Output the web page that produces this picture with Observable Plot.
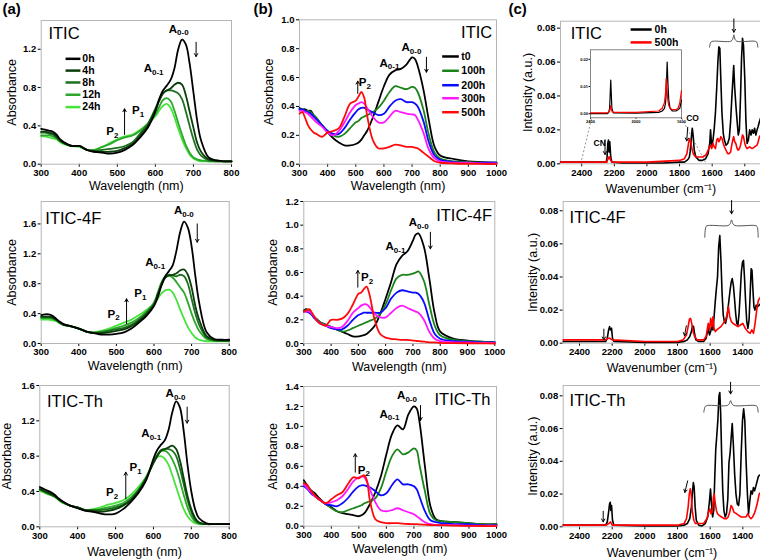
<!DOCTYPE html>
<html><head><meta charset="utf-8">
<script src="https://cdn.jsdelivr.net/npm/d3@7"></script>
<script src="https://cdn.jsdelivr.net/npm/@observablehq/plot@0.6"></script>
<style>
html,body{margin:0;padding:0;background:#fff;}
#fig{position:relative;width:760px;height:560px;overflow:hidden;background:#fff;}
#fig svg{position:absolute;left:0;top:0;}
</style></head><body><div id="fig"></div>
<script>
// ---------- Column (a): UV-vis, films under light ----------
const A_SERIES = ["0h","4h","8h","12h","24h"];
const A_COLORS = ["#000000","#0b3f0b","#1d701d","#2ba82b","#46e43a"];
const A_WL = [300,310,320,330,340,350,360,380,400,420,440,460,480,500,520,540,560,580,600,610,620,630,640,650,660,670,680,690,700,710,720,740,760,780,800];
const A1_0h  = [0.37,0.36,0.35,0.34,0.31,0.26,0.23,0.19,0.19,0.15,0.13,0.12,0.11,0.12,0.15,0.20,0.28,0.38,0.55,0.68,0.77,0.82,0.88,1.00,1.20,1.30,1.25,1.05,0.75,0.45,0.25,0.07,0.04,0.03,0.03];
const A1_4h  = [0.34,0.34,0.33,0.32,0.29,0.25,0.22,0.19,0.19,0.15,0.13,0.13,0.13,0.14,0.17,0.21,0.30,0.40,0.57,0.66,0.74,0.77,0.79,0.83,0.85,0.83,0.72,0.55,0.38,0.22,0.13,0.05,0.04,0.03,0.03];
const A1_8h  = [0.33,0.33,0.32,0.31,0.28,0.24,0.22,0.19,0.19,0.15,0.14,0.15,0.16,0.17,0.19,0.23,0.32,0.42,0.58,0.67,0.74,0.77,0.77,0.76,0.74,0.68,0.55,0.40,0.26,0.15,0.09,0.04,0.03,0.03,0.03];
const A1_12h = [0.30,0.30,0.30,0.29,0.27,0.24,0.22,0.19,0.19,0.15,0.15,0.18,0.21,0.25,0.28,0.30,0.35,0.42,0.52,0.60,0.67,0.69,0.66,0.56,0.43,0.31,0.20,0.12,0.07,0.05,0.04,0.03,0.03,0.03,0.03];
const A1_24h = [0.29,0.29,0.28,0.27,0.26,0.23,0.21,0.19,0.18,0.15,0.15,0.18,0.22,0.26,0.29,0.31,0.36,0.42,0.50,0.56,0.61,0.63,0.59,0.49,0.37,0.26,0.17,0.10,0.06,0.04,0.03,0.03,0.03,0.03,0.03];
const A2_0h  = [0.38,0.39,0.39,0.37,0.33,0.29,0.26,0.23,0.20,0.16,0.14,0.12,0.12,0.13,0.15,0.20,0.28,0.37,0.50,0.62,0.78,0.90,0.97,1.05,1.25,1.50,1.63,1.55,1.30,0.90,0.55,0.15,0.06,0.05,0.05];
const A2_4h  = [0.36,0.36,0.36,0.35,0.32,0.28,0.25,0.23,0.20,0.16,0.14,0.14,0.15,0.17,0.19,0.23,0.30,0.39,0.52,0.65,0.78,0.88,0.91,0.92,0.94,0.98,0.99,0.92,0.75,0.50,0.32,0.10,0.05,0.04,0.04];
const A2_8h  = [0.35,0.35,0.35,0.34,0.31,0.28,0.25,0.23,0.20,0.16,0.14,0.15,0.17,0.19,0.21,0.25,0.32,0.41,0.53,0.66,0.80,0.89,0.92,0.91,0.90,0.92,0.90,0.80,0.60,0.40,0.25,0.08,0.04,0.04,0.04];
const A2_12h = [0.34,0.34,0.34,0.33,0.31,0.27,0.25,0.23,0.20,0.16,0.15,0.16,0.18,0.21,0.24,0.28,0.34,0.43,0.55,0.68,0.82,0.90,0.91,0.88,0.82,0.75,0.68,0.55,0.40,0.27,0.17,0.06,0.04,0.04,0.04];
const A2_24h = [0.32,0.32,0.32,0.31,0.30,0.27,0.25,0.23,0.20,0.16,0.15,0.17,0.20,0.24,0.28,0.32,0.38,0.45,0.53,0.60,0.67,0.71,0.72,0.68,0.58,0.45,0.33,0.22,0.14,0.08,0.05,0.03,0.03,0.03,0.03];
const A3_0h  = [0.45,0.43,0.41,0.39,0.36,0.32,0.29,0.24,0.21,0.18,0.17,0.15,0.14,0.15,0.20,0.28,0.38,0.52,0.77,0.87,0.93,0.98,1.10,1.30,1.42,1.35,1.08,0.70,0.40,0.20,0.10,0.04,0.03,0.03,0.03];
const A3_4h  = [0.43,0.41,0.39,0.37,0.35,0.31,0.28,0.24,0.22,0.19,0.18,0.17,0.18,0.20,0.24,0.30,0.40,0.54,0.72,0.80,0.86,0.88,0.90,0.92,0.88,0.75,0.55,0.35,0.20,0.10,0.05,0.03,0.03,0.03,0.03];
const A3_8h  = [0.42,0.40,0.38,0.36,0.34,0.31,0.28,0.24,0.22,0.19,0.19,0.19,0.20,0.22,0.25,0.31,0.41,0.55,0.73,0.81,0.87,0.88,0.88,0.86,0.80,0.66,0.48,0.30,0.17,0.08,0.04,0.03,0.03,0.03,0.03];
const A3_12h = [0.42,0.40,0.38,0.36,0.34,0.31,0.28,0.24,0.22,0.19,0.19,0.20,0.22,0.24,0.27,0.33,0.42,0.55,0.74,0.81,0.86,0.86,0.83,0.76,0.66,0.52,0.36,0.22,0.12,0.06,0.04,0.03,0.03,0.03,0.03];
const A3_24h = [0.41,0.39,0.37,0.36,0.34,0.30,0.27,0.24,0.21,0.19,0.20,0.22,0.25,0.27,0.30,0.36,0.45,0.56,0.74,0.79,0.80,0.77,0.70,0.58,0.45,0.32,0.20,0.12,0.07,0.04,0.03,0.03,0.03,0.03,0.03];

// ---------- Column (b): UV-vis, solutions ----------
const B_SERIES = ["t0","100h","200h","300h","500h"];
const B_COLORS = ["#000000","#1a841a","#0a0aff","#ff18ff","#ff0a0a"];
const B_WL = [300,310,320,330,340,350,360,380,400,420,440,460,480,500,510,520,530,540,560,580,600,620,640,660,680,700,710,720,740,760,780,800,850,900,950,1000];
const B1_t0   = [0.39,0.38,0.38,0.37,0.37,0.34,0.32,0.27,0.22,0.18,0.15,0.13,0.13,0.14,0.15,0.17,0.20,0.23,0.32,0.43,0.54,0.62,0.65,0.66,0.69,0.74,0.73,0.68,0.52,0.30,0.12,0.06,0.035,0.02,0.015,0.01];
const B1_100h = [0.38,0.38,0.37,0.37,0.36,0.34,0.32,0.27,0.23,0.20,0.19,0.21,0.25,0.29,0.30,0.32,0.33,0.34,0.36,0.39,0.44,0.50,0.54,0.53,0.52,0.535,0.53,0.50,0.38,0.20,0.08,0.04,0.02,0.015,0.01,0.01];
const B1_200h = [0.38,0.38,0.37,0.36,0.35,0.33,0.31,0.27,0.23,0.21,0.21,0.25,0.31,0.36,0.38,0.39,0.39,0.38,0.36,0.34,0.35,0.40,0.44,0.45,0.43,0.43,0.42,0.40,0.30,0.15,0.06,0.03,0.015,0.01,0.01,0.01];
const B1_300h = [0.37,0.37,0.36,0.35,0.33,0.31,0.29,0.26,0.22,0.20,0.23,0.29,0.36,0.41,0.42,0.43,0.42,0.39,0.33,0.29,0.29,0.33,0.37,0.36,0.35,0.345,0.34,0.31,0.22,0.10,0.04,0.02,0.01,0.01,0.005,0.005];
const B1_500h = [0.35,0.36,0.32,0.27,0.24,0.22,0.21,0.19,0.22,0.23,0.25,0.33,0.42,0.44,0.47,0.50,0.46,0.34,0.17,0.11,0.11,0.12,0.135,0.13,0.12,0.12,0.115,0.11,0.08,0.05,0.02,0.01,0.005,0.003,0.002,0.0];
const B2_t0   = [0.28,0.29,0.27,0.25,0.22,0.20,0.18,0.16,0.14,0.12,0.10,0.08,0.06,0.06,0.065,0.07,0.08,0.10,0.15,0.25,0.38,0.52,0.67,0.74,0.78,0.87,0.92,0.93,0.82,0.55,0.25,0.10,0.04,0.025,0.015,0.01];
const B2_100h = [0.28,0.28,0.27,0.25,0.22,0.20,0.18,0.16,0.14,0.12,0.10,0.11,0.13,0.15,0.16,0.17,0.18,0.19,0.21,0.25,0.33,0.45,0.55,0.58,0.58,0.59,0.60,0.61,0.53,0.33,0.15,0.07,0.03,0.02,0.015,0.01];
const B2_200h = [0.27,0.27,0.26,0.24,0.21,0.19,0.17,0.15,0.13,0.12,0.12,0.15,0.20,0.24,0.25,0.26,0.26,0.26,0.26,0.26,0.30,0.38,0.43,0.45,0.44,0.43,0.43,0.42,0.35,0.20,0.08,0.04,0.02,0.015,0.01,0.01];
const B2_300h = [0.27,0.27,0.27,0.25,0.22,0.19,0.17,0.15,0.14,0.13,0.14,0.19,0.26,0.30,0.32,0.33,0.33,0.31,0.25,0.22,0.22,0.26,0.30,0.32,0.30,0.28,0.27,0.26,0.20,0.10,0.04,0.02,0.01,0.01,0.005,0.005];
const B2_500h = [0.27,0.28,0.29,0.26,0.22,0.19,0.17,0.15,0.20,0.20,0.21,0.25,0.33,0.42,0.43,0.46,0.48,0.42,0.20,0.08,0.05,0.04,0.035,0.03,0.03,0.025,0.022,0.02,0.015,0.01,0.01,0.005,0.003,0.002,0.001,0.0];
const B3_t0   = [0.46,0.42,0.38,0.35,0.33,0.30,0.27,0.22,0.19,0.15,0.13,0.12,0.11,0.10,0.11,0.13,0.17,0.22,0.34,0.50,0.72,0.92,1.01,0.97,1.12,1.20,1.18,1.05,0.60,0.20,0.07,0.05,0.04,0.03,0.02,0.02];
const B3_100h = [0.44,0.40,0.37,0.34,0.31,0.28,0.26,0.22,0.18,0.15,0.14,0.16,0.18,0.20,0.21,0.23,0.24,0.25,0.28,0.38,0.55,0.70,0.77,0.72,0.74,0.78,0.76,0.62,0.35,0.12,0.06,0.05,0.04,0.03,0.02,0.02];
const B3_200h = [0.40,0.38,0.35,0.32,0.30,0.28,0.26,0.22,0.21,0.20,0.23,0.28,0.35,0.40,0.41,0.41,0.40,0.39,0.35,0.31,0.33,0.41,0.47,0.42,0.42,0.40,0.37,0.30,0.15,0.06,0.04,0.03,0.02,0.02,0.01,0.01];
const B3_300h = [0.42,0.39,0.36,0.33,0.30,0.28,0.26,0.23,0.24,0.26,0.30,0.37,0.45,0.49,0.50,0.49,0.44,0.37,0.24,0.16,0.15,0.16,0.18,0.16,0.14,0.12,0.10,0.08,0.04,0.02,0.01,0.01,0.01,0.005,0.005,0.005];
const B3_500h = [0.43,0.42,0.38,0.34,0.31,0.28,0.26,0.23,0.27,0.31,0.34,0.42,0.49,0.48,0.50,0.51,0.45,0.26,0.07,0.04,0.03,0.03,0.03,0.025,0.022,0.02,0.02,0.018,0.015,0.012,0.01,0.01,0.005,0.003,0.002,0.0];

// ---------- Column (c): IR spectra, [wavenumber, intensity] ----------
const C_SERIES = ["0h","500h"];
const C_COLORS = ["#000000","#ff0000"];
const C1_0h = [[2530,0.001],[2300,0.001],[2250,0.001],[2245,0.003],[2240,0.012],[2236,0.014],[2232,0.007],[2228,0.013],[2222,0.004],[2215,0.001],[2150,0.0005],[1900,0.0005],[1800,0.001],[1770,0.001],[1755,0.002],[1745,0.003],[1740,0.004],[1735,0.007],[1728,0.015],[1722,0.021],[1716,0.016],[1710,0.008],[1700,0.004],[1680,0.002],[1660,0.002],[1640,0.003],[1625,0.006],[1615,0.012],[1610,0.02],[1603,0.01],[1595,0.014],[1588,0.02],[1580,0.03],[1572,0.045],[1565,0.06],[1559,0.069],[1553,0.068],[1547,0.05],[1540,0.03],[1532,0.018],[1525,0.014],[1515,0.011],[1505,0.012],[1495,0.015],[1487,0.025],[1480,0.038],[1474,0.048],[1468,0.058],[1462,0.045],[1455,0.035],[1447,0.025],[1440,0.017],[1433,0.02],[1426,0.04],[1420,0.062],[1414,0.074],[1408,0.07],[1400,0.05],[1393,0.025],[1386,0.012],[1378,0.014],[1370,0.02],[1362,0.017],[1355,0.02],[1347,0.018],[1340,0.021],[1332,0.017],[1325,0.02],[1318,0.022],[1310,0.025],[1300,0.028]];
const C1_500h = [[2530,0.001],[2300,0.001],[2245,0.001],[2240,0.003],[2236,0.004],[2232,0.003],[2228,0.004],[2222,0.002],[2215,0.001],[2000,0.001],[1800,0.002],[1770,0.003],[1755,0.006],[1745,0.012],[1740,0.0147],[1735,0.014],[1728,0.011],[1722,0.008],[1716,0.006],[1710,0.005],[1700,0.004],[1660,0.004],[1640,0.005],[1625,0.008],[1615,0.01],[1610,0.011],[1603,0.009],[1595,0.012],[1588,0.01],[1580,0.009],[1572,0.014],[1565,0.015],[1559,0.013],[1553,0.014],[1547,0.016],[1540,0.015],[1532,0.012],[1525,0.01],[1515,0.008],[1505,0.006],[1495,0.006],[1487,0.007],[1480,0.011],[1474,0.014],[1468,0.016],[1462,0.013],[1455,0.012],[1447,0.009],[1440,0.008],[1433,0.009],[1426,0.011],[1420,0.014],[1414,0.017],[1408,0.016],[1400,0.012],[1393,0.01],[1386,0.009],[1370,0.01],[1355,0.009],[1340,0.01],[1325,0.011],[1318,0.013],[1310,0.016],[1300,0.017]];
const C2_0h = [[2500,0.001],[2300,0.001],[2240,0.001],[2230,0.003],[2222,0.008],[2216,0.010],[2210,0.008],[2204,0.009],[2198,0.003],[2190,0.001],[2000,0.0005],[1800,0.0005],[1760,0.001],[1740,0.002],[1725,0.004],[1715,0.007],[1708,0.0105],[1702,0.01],[1696,0.006],[1688,0.002],[1670,0.001],[1640,0.001],[1625,0.003],[1612,0.009],[1604,0.005],[1597,0.007],[1590,0.011],[1583,0.008],[1576,0.016],[1569,0.025],[1562,0.033],[1555,0.04],[1548,0.058],[1541,0.065],[1534,0.05],[1527,0.03],[1520,0.017],[1513,0.013],[1506,0.012],[1499,0.015],[1492,0.02],[1485,0.026],[1478,0.032],[1471,0.037],[1465,0.039],[1458,0.035],[1451,0.027],[1444,0.018],[1437,0.012],[1430,0.011],[1423,0.018],[1416,0.03],[1409,0.043],[1402,0.049],[1396,0.05],[1390,0.04],[1383,0.025],[1376,0.013],[1369,0.009],[1362,0.014],[1355,0.03],[1349,0.045],[1344,0.044],[1338,0.032],[1332,0.022],[1326,0.02],[1318,0.023],[1310,0.022],[1300,0.023],[1290,0.024]];
const C2_500h = [[2500,0.002],[2300,0.002],[2240,0.002],[2225,0.003],[2215,0.003],[2200,0.002],[2000,0.001],[1800,0.001],[1765,0.002],[1745,0.005],[1735,0.01],[1727,0.0145],[1720,0.015],[1713,0.012],[1705,0.007],[1695,0.004],[1680,0.002],[1640,0.002],[1625,0.004],[1612,0.012],[1604,0.008],[1597,0.015],[1590,0.01],[1583,0.016],[1576,0.009],[1569,0.007],[1560,0.008],[1548,0.009],[1534,0.01],[1520,0.012],[1506,0.014],[1495,0.018],[1488,0.022],[1480,0.016],[1470,0.013],[1460,0.012],[1445,0.011],[1430,0.01],[1415,0.011],[1400,0.012],[1385,0.009],[1370,0.007],[1355,0.006],[1345,0.008],[1335,0.006],[1325,0.012],[1315,0.02],[1305,0.026],[1290,0.028]];
const C3_0h = [[2500,0.001],[2300,0.001],[2240,0.001],[2230,0.003],[2222,0.009],[2216,0.014],[2212,0.015],[2208,0.01],[2204,0.013],[2198,0.004],[2190,0.001],[2000,0.0005],[1800,0.0005],[1760,0.001],[1740,0.002],[1725,0.005],[1715,0.012],[1708,0.022],[1703,0.027],[1698,0.024],[1692,0.012],[1685,0.004],[1670,0.001],[1650,0.0005],[1630,0.002],[1615,0.006],[1605,0.015],[1598,0.023],[1592,0.014],[1585,0.006],[1578,0.01],[1572,0.03],[1566,0.047],[1560,0.055],[1553,0.065],[1546,0.08],[1541,0.082],[1536,0.07],[1530,0.045],[1523,0.022],[1516,0.01],[1508,0.006],[1500,0.008],[1492,0.017],[1485,0.039],[1478,0.045],[1471,0.055],[1465,0.063],[1458,0.05],[1450,0.032],[1442,0.02],[1434,0.014],[1426,0.013],[1418,0.02],[1410,0.045],[1402,0.065],[1395,0.072],[1388,0.065],[1380,0.04],[1372,0.02],[1365,0.008],[1358,0.015],[1350,0.022],[1342,0.02],[1335,0.024],[1328,0.022],[1320,0.025],[1312,0.028],[1304,0.031],[1290,0.032]];
const C3_500h = [[2500,0.001],[2240,0.001],[2220,0.002],[2210,0.003],[2200,0.001],[1800,0.001],[1760,0.002],[1745,0.005],[1735,0.012],[1728,0.02],[1722,0.0232],[1716,0.02],[1710,0.01],[1700,0.004],[1690,0.002],[1640,0.002],[1620,0.005],[1610,0.009],[1602,0.011],[1595,0.008],[1588,0.009],[1580,0.018],[1575,0.02],[1570,0.015],[1562,0.01],[1555,0.008],[1545,0.007],[1530,0.006],[1515,0.005],[1500,0.005],[1490,0.006],[1480,0.009],[1472,0.013],[1465,0.012],[1455,0.009],[1440,0.008],[1425,0.007],[1410,0.006],[1395,0.006],[1380,0.006],[1370,0.008],[1360,0.006],[1350,0.005],[1340,0.006],[1330,0.008],[1320,0.011],[1310,0.015],[1300,0.02],[1290,0.021]];
// inset of (c) ITIC
const INSET_WN = [2400,2250,2240,2232,2226,2222,2218,2212,2200,2000,1800,1770,1750,1740,1735,1730,1726,1720,1712,1700,1680,1650,1630,1615,1605,1600];
const INSET_0h = [0.0,0.0,0.0005,0.002,0.008,0.0124,0.008,0.002,0.0003,0.0002,0.0005,0.001,0.002,0.004,0.007,0.014,0.019,0.012,0.005,0.002,0.001,0.001,0.0015,0.002,0.004,0.005];
const INSET_500h = [0.0003,0.0003,0.0006,0.001,0.002,0.003,0.002,0.001,0.0005,0.0005,0.001,0.002,0.004,0.008,0.013,0.011,0.008,0.005,0.003,0.002,0.0015,0.0015,0.002,0.004,0.007,0.0085];

// ---------- annotations (data coordinates) ----------
const A1_NOTES = [{x:657,y:1.413,main:"A",sub:"0-0"},{x:591,y:0.996,main:"A",sub:"0-1"},{x:559,y:0.56,main:"P",sub:"1"},{x:491,y:0.345,main:"P",sub:"2"}];
const A1_ARROWS = [{x1:707,y1:1.273,x2:707,y2:1.124},{x1:519,y1:0.31,x2:519,y2:0.578}];
const A2_NOTES = [{x:675,y:1.78,main:"A",sub:"0-0"},{x:599,y:1.08,main:"A",sub:"0-1"},{x:568,y:0.665,main:"P",sub:"1"},{x:497,y:0.397,main:"P",sub:"2"}];
const A2_ARROWS = [{x1:715,y1:1.60,x2:715,y2:1.355},{x1:527,y1:0.264,x2:527,y2:0.598}];
const A3_NOTES = [{x:654,y:1.506,main:"A",sub:"0-0"},{x:590,y:1.053,main:"A",sub:"0-1"},{x:557,y:0.675,main:"P",sub:"1"},{x:495,y:0.392,main:"P",sub:"2"}];
const A3_ARROWS = [{x1:689,y1:1.355,x2:689,y2:1.174},{x1:527,y1:0.317,x2:527,y2:0.618}];
const B1_NOTES = [{x:692,y:0.81,main:"A",sub:"0-0"},{x:614,y:0.702,main:"A",sub:"0-1"},{x:538,y:0.568,main:"P",sub:"2"}];
const B1_ARROWS = [{x1:751,y1:0.741,x2:751,y2:0.637},{x1:507,y1:0.49,x2:507,y2:0.575}];
const B2_NOTES = [{x:715,y:1.025,main:"A",sub:"0-0"},{x:630,y:0.82,main:"A",sub:"0-1"},{x:538,y:0.56,main:"P",sub:"2"}];
const B2_ARROWS = [{x1:764,y1:0.94,x2:764,y2:0.80},{x1:498,y1:0.476,x2:498,y2:0.617}];
const B3_NOTES = [{x:669,y:1.31,main:"A",sub:"0-0"},{x:605,y:1.126,main:"A",sub:"0-1"},{x:524,y:0.565,main:"P",sub:"2"}];
const B3_ARROWS = [{x1:724,y1:1.21,x2:724,y2:1.06},{x1:487,y1:0.541,x2:487,y2:0.725}];
const C1_TAGS = [{x:2290,y:0.0122,t:"CN"},{x:1720,y:0.027,t:"CO"}];
const C1_ARROWS = [{x1:2257,y1:0.0142,x2:2257,y2:0.0055},{x1:1750,y1:0.0215,x2:1756,y2:0.0135},{x1:1467,y1:0.0855,x2:1467,y2:0.0776}];
const C1_LINKS = [{x1:2406,y1:0,x2:2339,y2:0.027},{x1:1641,y1:0.001,x2:1788,y2:0.027}];
const C1_BRACE = [[1616,0.0688],[1608,0.0718],[1595,0.0723],[1485,0.0723],[1474,0.0735],[1467,0.0761],[1460,0.0735],[1449,0.0723],[1340,0.0723],[1327,0.0718],[1320,0.0688]];
const C2_ARROWS = [{x1:2251,y1:0.0085,x2:2251,y2:0.002},{x1:1746,y1:0.0105,x2:1757,y2:0.0045},{x1:1469,y1:0.0862,x2:1469,y2:0.0782}];
const C2_BRACE = [[1633,0.064],[1625,0.0705],[1612,0.0711],[1490,0.0711],[1477,0.0722],[1469,0.0745],[1461,0.0722],[1448,0.0711],[1325,0.0711],[1313,0.0705],[1306,0.064]];
const C3_ARROWS = [{x1:2255,y1:0.0095,x2:2255,y2:0.003},{x1:1738,y1:0.028,x2:1755,y2:0.021},{x1:1475,y1:0.0883,x2:1475,y2:0.0812}];
const C3_BRACE = [[1639,0.070],[1630,0.0735],[1617,0.0741],[1495,0.0741],[1483,0.0752],[1475,0.0771],[1467,0.0752],[1455,0.0741],[1325,0.0741],[1313,0.0735],[1306,0.070]];

// ---------- drawing ----------
const FONT = '"Liberation Sans", Arial, Helvetica, sans-serif';
const SVG_W = 770, SVG_H = 560;
const fig = document.getElementById("fig");

function makePanel(p) {
  const [fx0, fx1, fy0, fy1] = p.frame;
  const marks = [];
  marks.push(Plot.frame(p.inset ? {fill: "#fff", stroke: "#666", strokeWidth: 0.8} : {stroke: "#b5b5b5"}));
  if (p.links) marks.push(Plot.link(p.links, {x1: "x1", y1: "y1", x2: "x2", y2: "y2", stroke: "#777", strokeWidth: 0.8, strokeDasharray: "2,2"}));
  for (const s of p.series) {
    const n = Math.min(s.x.length, s.y.length);
    marks.push(Plot.line(d3.range(n), {x: i => s.x[i], y: i => s.y[i], stroke: s.color, strokeWidth: p.lineWidth ?? 1.8, curve: p.curve ?? "catmull-rom"}));
  }
  if (p.brace) marks.push(Plot.line(p.brace, {x: d => d[0], y: d => d[1], stroke: "#555", strokeWidth: 1, curve: "catmull-rom"}));
  if (p.arrows) marks.push(Plot.arrow(p.arrows, {x1: "x1", y1: "y1", x2: "x2", y2: "y2", stroke: "#000", strokeWidth: 1, headLength: 5}));
  if (p.notes) {
    marks.push(Plot.text(p.notes, {x: "x", y: "y", text: "main", textAnchor: "end", lineAnchor: "middle", fontSize: 11.5, fontWeight: "bold"}));
    marks.push(Plot.text(p.notes, {x: "x", y: "y", text: "sub", textAnchor: "start", lineAnchor: "middle", dy: 4, fontSize: 8, fontWeight: "bold"}));
  }
  if (p.tags) marks.push(Plot.text(p.tags, {x: "x", y: "y", text: "t", lineAnchor: "middle", fontSize: 8.5, fontWeight: "bold"}));
  if (p.legend) {
    const L = p.legend;
    L.labels.forEach((lab, k) => {
      const row = [{lab, y: L.ys[k]}];
      marks.push(Plot.link(row, {x1: () => L.x1, x2: () => L.x2, y1: "y", y2: "y", stroke: L.colors[k], strokeWidth: 2.5}));
      marks.push(Plot.text(row, {x: () => L.xt, y: "y", text: "lab", textAnchor: "start", lineAnchor: "middle", fontSize: 10.5, fontWeight: "bold"}));
    });
  }
  if (p.name) marks.push(Plot.text([p.name], {x: "x", y: "y", text: "t", textAnchor: p.name.anchor, lineAnchor: "middle", fontSize: 16.5, fontWeight: "normal"}));
  if (p.xLabel) marks.push(Plot.text([p.xLabel], {text: d => d, frameAnchor: "bottom", dy: p.xLabelDy, lineAnchor: "middle", fontSize: 12.5, fontWeight: "normal"}));
  if (p.yLabel) marks.push(Plot.text([p.yLabel], {text: d => d, frameAnchor: "left", dx: p.yLabelDx, rotate: -90, textAnchor: "middle", lineAnchor: "middle", fontSize: 12.5, fontWeight: "normal"}));
  if (p.letter) marks.push(Plot.text([p.letter.t], {text: d => d, frameAnchor: "top-left", dx: p.letter.dx, dy: p.letter.dy, textAnchor: "start", lineAnchor: "middle", fontSize: 15, fontWeight: "bold"}));
  const tick = p.inset ? 1.5 : 3;
  const svg = Plot.plot({
    width: SVG_W, height: SVG_H,
    marginLeft: fx0, marginRight: SVG_W - fx1, marginTop: fy0, marginBottom: SVG_H - fy1,
    x: {domain: p.xDomain, ticks: p.xTicks, tickFormat: p.xFormat ?? "d", tickSize: tick, tickPadding: p.inset ? 1 : 2, label: null},
    y: {domain: p.yDomain, ticks: p.yTicks, tickFormat: p.yFormat, tickSize: tick, tickPadding: p.inset ? 1 : 2, label: null},
    style: {background: "transparent", fontFamily: FONT, fontSize: p.inset ? "4px" : "9.5px", fontWeight: "bold", color: "#000", maxWidth: "none", overflow: "visible"},
    marks
  });
  fig.appendChild(svg);
}

function ser(xs, ys, colors) { return ys.map((y, k) => ({x: xs, y, color: colors[k]})); }
function serPairs(list, colors) { return list.map((arr, k) => ({x: arr.map(d => d[0]), y: arr.map(d => d[1]), color: colors[k]})); }
const revIdx = [4,3,2,1,0];

const aTicksX = [300,400,500,600,700,800];
const bTicksX = [300,400,500,600,700,800,900,1000];
const cTicksX = [2400,2200,2000,1800,1600,1400];
const cTicksY = [0,0.02,0.04,0.06,0.08];

function aPanel(frame, yDomain, yTicks, data, notes, arrows, name, extra) {
  const all = ser(A_WL, data, A_COLORS);
  makePanel(Object.assign({frame, xDomain: [300, 800], yDomain, xTicks: aTicksX, yTicks, yFormat: ".1f",
    series: revIdx.map(i => all[i]), notes, arrows, name, xLabel: "Wavelength (nm)", yLabel: "Absorbance"}, extra));
}
aPanel([40.7, 231, 20, 163.7], [0, 1.5], [0, 0.4, 0.8, 1.2], [A1_0h, A1_4h, A1_8h, A1_12h, A1_24h], A1_NOTES, A1_ARROWS,
  {x: 319, y: 1.361, t: "ITIC", anchor: "start"},
  {xLabelDy: 21.5, yLabelDx: -29, letter: {t: "(a)", dx: -38.7, dy: -11},
   legend: {labels: A_SERIES, colors: A_COLORS, x1: 364, x2: 403, xt: 408, ys: [1.10, 0.977, 0.853, 0.725, 0.596]}});
aPanel([40.7, 228.7, 201, 343], [0, 1.9], [0, 0.4, 0.8, 1.2, 1.6], [A2_0h, A2_4h, A2_8h, A2_12h, A2_24h], A2_NOTES, A2_ARROWS,
  {x: 311, y: 1.669, t: "ITIC-4F", anchor: "start"}, {xLabelDy: 22.7, yLabelDx: -29});
aPanel([39.3, 228.7, 385, 526.3], [0, 1.6], [0, 0.4, 0.8, 1.2, 1.6], [A3_0h, A3_4h, A3_8h, A3_12h, A3_24h], A3_NOTES, A3_ARROWS,
  {x: 319, y: 1.419, t: "ITIC-Th", anchor: "start"}, {xLabelDy: 25, yLabelDx: -32.5});

function bPanel(frame, yDomain, data, notes, arrows, name, extra) {
  const yTicks = d3.range(0, yDomain[1] + 0.001, 0.2);
  makePanel(Object.assign({frame, xDomain: [300, 1000], yDomain, xTicks: bTicksX, yTicks, yFormat: ".1f",
    series: ser(B_WL, data, B_COLORS), notes, arrows, name, xLabel: "Wavelength (nm)", yLabel: "Absorbance"}, extra));
}
bPanel([299, 496, 19.3, 163.7], [0, 1.0], [B1_t0, B1_100h, B1_200h, B1_300h, B1_500h], B1_NOTES, B1_ARROWS,
  {x: 985, y: 0.91, t: "ITIC", anchor: "end"},
  {xLabelDy: 21.3, yLabelDx: -30.7, letter: {t: "(b)", dx: -46, dy: -10.3},
   legend: {labels: B_SERIES, colors: B_COLORS, x1: 807, x2: 866, xt: 875, ys: [0.746, 0.647, 0.547, 0.457, 0.36]}});
bPanel([303.3, 494.3, 201, 343], [0, 1.2], [B2_t0, B2_100h, B2_200h, B2_300h, B2_500h], B2_NOTES, B2_ARROWS,
  {x: 990, y: 1.082, t: "ITIC-4F", anchor: "end"}, {xLabelDy: 23, yLabelDx: -30.6});
bPanel([303.3, 496, 386, 525.7], [0, 1.4], [B3_t0, B3_100h, B3_200h, B3_300h, B3_500h], B3_NOTES, B3_ARROWS,
  {x: 978, y: 1.266, t: "ITIC-Th", anchor: "end"}, {xLabelDy: 22.6, yLabelDx: -30.6});

function cPanel(frame, xDomain, yDomain, data, arrows, brace, name, extra) {
  makePanel(Object.assign({frame, xDomain, yDomain, xTicks: cTicksX, yTicks: cTicksY, yFormat: ".2f",
    series: serPairs(data, C_COLORS), arrows, brace, name, lineWidth: 1.6, curve: "linear",
    xLabel: "Wavenumber (cm\u207B\u00B9)", yLabel: "Intensity (a.u.)"}, extra));
}
cPanel([560, 760.6, 20.7, 163.3], [2530, 1300], [0, 0.0841], [C1_0h, C1_500h], C1_ARROWS, C1_BRACE,
  {x: 2467, y: 0.0767, t: "ITIC", anchor: "start"},
  {xLabelDy: 25, yLabelDx: -32.3, letter: {t: "(c)", dx: -52, dy: -11.7}, tags: C1_TAGS, links: C1_LINKS,
   legend: {labels: C_SERIES, colors: C_COLORS, x1: 2100, x2: 1971, xt: 1953, ys: [0.0792, 0.0716]}});
makePanel({frame: [590, 681, 49.3, 117.3], inset: true, xDomain: [2400, 1600], yDomain: [-0.0015, 0.0235],
  xTicks: [2400, 2000, 1600], yTicks: [0, 0.01, 0.02], yFormat: ".2f", lineWidth: 1.2, curve: "linear",
  series: ser(INSET_WN, [INSET_0h, INSET_500h], C_COLORS)});
cPanel([562.7, 760.3, 201, 342.7], [2500, 1290], [0, 0.0856], [C2_0h, C2_500h], C2_ARROWS, C2_BRACE,
  {x: 2461, y: 0.0761, t: "ITIC-4F", anchor: "start"}, {xLabelDy: 25, yLabelDx: -30});
cPanel([562.7, 760.3, 385, 526.3], [2500, 1290], [0, 0.0863], [C3_0h, C3_500h], C3_ARROWS, C3_BRACE,
  {x: 2461, y: 0.0771, t: "ITIC-Th", anchor: "start"}, {xLabelDy: 26, yLabelDx: -30});
</script></body></html>
